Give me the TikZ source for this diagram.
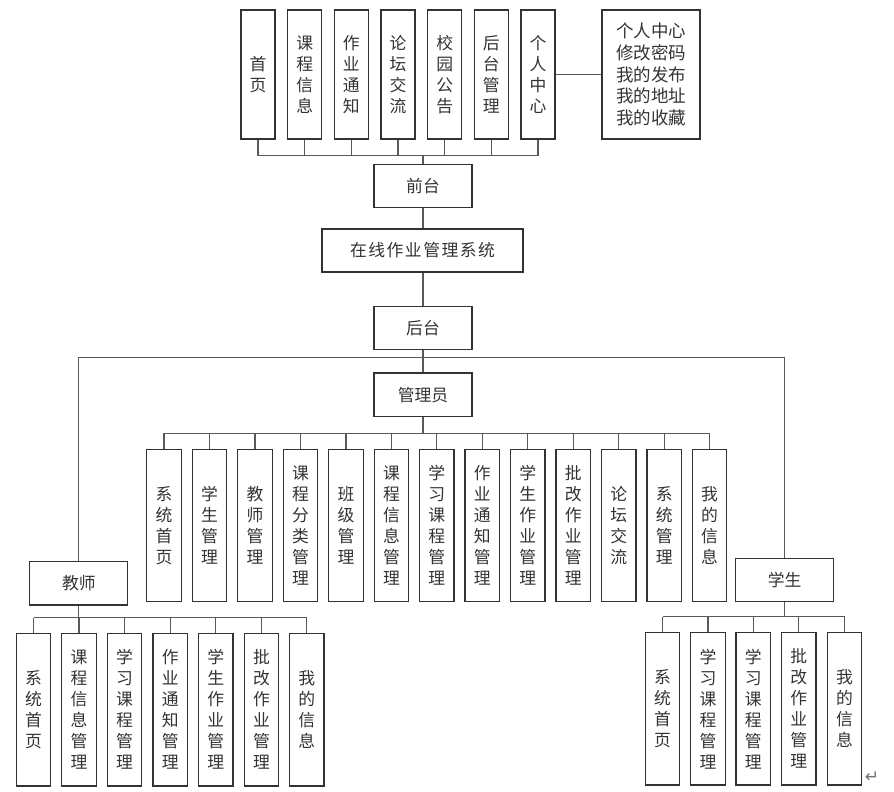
\documentclass[tikz,border=0pt]{standalone}
\usepackage{fontspec}
\newfontfamily\cjk{Noto Sans CJK SC}
\newfontfamily\dejavu{DejaVu Sans}
\begin{document}
\begin{tikzpicture}[x=1pt,y=-1pt,
  box/.style={draw=black!80, line width=1.2pt, inner sep=0pt, align=center,
    font=\cjk\fontsize{16.8pt}{21pt}\selectfont, text=black!80},
  colA/.style={box, minimum width=34pt, minimum height=129pt},
  colB/.style={box, minimum width=34.5pt, minimum height=152.4pt},
  wide/.style={box, minimum width=98pt, minimum height=43.5pt},
  link/.style={draw=black!65, line width=1.3pt},
]
\useasboundingbox (0,0) rectangle (894,792);

% ---------- top (front end) ----------
\node[colA] (f1) at (258,74.5)   {首\\页};
\node[colA] (f2) at (304.7,74.5) {课\\程\\信\\息};
\node[colA] (f3) at (351.3,74.5) {作\\业\\通\\知};
\node[colA] (f4) at (398,74.5)   {论\\坛\\交\\流};
\node[colA] (f5) at (444.7,74.5) {校\\园\\公\\告};
\node[colA] (f6) at (491.3,74.5) {后\\台\\管\\理};
\node[colA] (f7) at (538,74.5)   {个\\人\\中\\心};
\node[box, minimum width=98pt, minimum height=129pt,
      font=\cjk\fontsize{17.5pt}{21.7pt}\selectfont] (pc) at (651,74.5)
      {个人中心\\修改密码\\我的发布\\我的地址\\我的收藏};

\node[wide] (front) at (423,186) {前台};
\node[box, minimum width=201pt, minimum height=43pt] (sys) at (422.5,250.5)
      {在\hspace{1.5pt}线\hspace{1.5pt}作\hspace{1.5pt}业\hspace{1.5pt}管\hspace{1.5pt}理\hspace{1.5pt}系\hspace{1.5pt}统};
\node[wide] (back) at (423,328) {后台};
\node[wide] (admin) at (423,394.7) {管理员};

% ---------- admin row ----------
\node[colB] (a1)  at (164,525.5)    {系\\统\\首\\页};
\node[colB] (a2)  at (209.5,525.5)  {学\\生\\管\\理};
\node[colB] (a3)  at (254.9,525.5)  {教\\师\\管\\理};
\node[colB] (a4)  at (300.4,525.5)  {课\\程\\分\\类\\管\\理};
\node[colB] (a5)  at (345.9,525.5)  {班\\级\\管\\理};
\node[colB] (a6)  at (391.4,525.5)  {课\\程\\信\\息\\管\\理};
\node[colB] (a7)  at (436.8,525.5)  {学\\习\\课\\程\\管\\理};
\node[colB] (a8)  at (482.3,525.5)  {作\\业\\通\\知\\管\\理};
\node[colB] (a9)  at (527.8,525.5)  {学\\生\\作\\业\\管\\理};
\node[colB] (a10) at (573.2,525.5)  {批\\改\\作\\业\\管\\理};
\node[colB] (a11) at (618.7,525.5)  {论\\坛\\交\\流};
\node[colB] (a12) at (664.2,525.5)  {系\\统\\管\\理};
\node[colB] (a13) at (709.6,525.5)  {我\\的\\信\\息};

% ---------- teacher ----------
\node[wide] (teacher) at (78.8,583.3) {教师};
\node[colB] (t1) at (33.5,709.7)  {系\\统\\首\\页};
\node[colB] (t2) at (79.1,709.7)  {课\\程\\信\\息\\管\\理};
\node[colB] (t3) at (124.6,709.7) {学\\习\\课\\程\\管\\理};
\node[colB] (t4) at (170.2,709.7) {作\\业\\通\\知\\管\\理};
\node[colB] (t5) at (215.8,709.7) {学\\生\\作\\业\\管\\理};
\node[colB] (t6) at (261.4,709.7) {批\\改\\作\\业\\管\\理};
\node[colB] (t7) at (306.8,709.7) {我\\的\\信\\息};

% ---------- student ----------
\node[wide] (student) at (784.7,580) {学生};
\node[colB] (s1) at (662.5,708.8) {系\\统\\首\\页};
\node[colB] (s2) at (708,708.8)   {学\\习\\课\\程\\管\\理};
\node[colB] (s3) at (753.3,708.8) {学\\习\\课\\程\\管\\理};
\node[colB] (s4) at (798.8,708.8) {批\\改\\作\\业\\管\\理};
\node[colB] (s5) at (844.5,708.8) {我\\的\\信\\息};

\node[font=\dejavu\fontsize{17pt}{17pt}\selectfont, text=black!55, inner sep=0pt] (mark) at (872,777) {↵};

% ---------- connectors ----------
\coordinate (topbus) at (0,155.7);
\coordinate (mainbus) at (0,357.3);
\coordinate (adminbus) at (0,433.3);
\coordinate (tbus) at (0,617.7);
\coordinate (sbus) at (0,616.7);

\foreach \n in {f1,f2,f3,f4,f5,f6,f7}
  \draw[link] (\n.south) -- (\n.south |- topbus);
\draw[link] (f1.south |- topbus) -- (f7.south |- topbus);
\draw[link] (front.north) -- (front.north |- topbus);
\draw[link] (f7.east |- pc.west) -- (pc.west);

\draw[link] (front.south) -- (sys.north -| front.south);
\draw[link] (sys.south -| back.north) -- (back.north);
\draw[link] (back.south) -- (admin.north);
\draw[link] (teacher.north |- mainbus) -- (student.north |- mainbus);
\draw[link] (teacher.north |- mainbus) -- (teacher.north);
\draw[link] (student.north |- mainbus) -- (student.north);

\draw[link] (admin.south) -- (admin.south |- adminbus);
\draw[link] (a1.north |- adminbus) -- (a13.north |- adminbus);
\foreach \n in {a1,a2,a3,a4,a5,a6,a7,a8,a9,a10,a11,a12,a13}
  \draw[link] (\n.north |- adminbus) -- (\n.north);

\draw[link] (teacher.south) -- (teacher.south |- tbus);
\draw[link] (t1.north |- tbus) -- (t7.north |- tbus);
\foreach \n in {t1,t2,t3,t4,t5,t6,t7}
  \draw[link] (\n.north |- tbus) -- (\n.north);

\draw[link] (student.south) -- (student.south |- sbus);
\draw[link] (s1.north |- sbus) -- (s5.north |- sbus);
\foreach \n in {s1,s2,s3,s4,s5}
  \draw[link] (\n.north |- sbus) -- (\n.north);
\end{tikzpicture}
\end{document}
